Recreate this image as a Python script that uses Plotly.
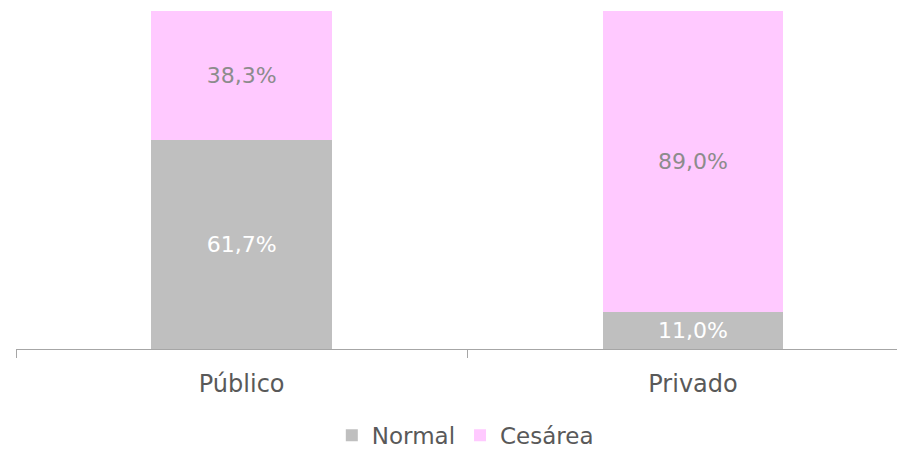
import plotly.graph_objects as go

# categorias e valores (proporções)
categorias = ["Público", "Privado"]
normal = [0.617, 0.110]
cesarea = [0.383, 0.890]

cor_normal = "#BFBFBF"
cor_cesarea = "#FFC9FF"
fonte = "'Century Gothic', 'DejaVu Sans', sans-serif"

fig = go.Figure()

fig.add_trace(go.Bar(
    x=categorias, y=normal, name="Normal",
    marker=dict(color=cor_normal, line=dict(width=0)),
    texttemplate="%{y:.1%}", textposition="inside", insidetextanchor="middle",
    textangle=0, constraintext="none",
    textfont=dict(color="white", size=22, family=fonte),
))
fig.add_trace(go.Bar(
    x=categorias, y=cesarea, name="Cesárea",
    marker=dict(color=cor_cesarea, line=dict(width=0)),
    texttemplate="%{y:.1%}", textposition="inside", insidetextanchor="middle",
    textangle=0, constraintext="none",
    textfont=dict(color="#8C8C8C", size=22, family=fonte),
))

# figura um pouco mais alta que a janela para a legenda não empurrar a margem
fig.update_layout(
    barmode="stack",
    bargap=0.6,
    separators=",.",
    width=897, height=480,
    margin=dict(l=16, r=0, t=11, b=131),
    plot_bgcolor="white", paper_bgcolor="white",
    font=dict(family=fonte, color="#595959", size=24),
    showlegend=True,
    legend=dict(orientation="h", x=0.51, xanchor="center", y=-0.255, yanchor="middle",
                font=dict(size=23, color="#595959"), itemwidth=30,
                traceorder="normal"),
)

fig.update_xaxes(
    type="category", range=[-0.5, 1.452],
    showline=True, linecolor="#A6A6A6", linewidth=1,
    ticks="outside", tickson="boundaries", ticklen=8, tickcolor="#A6A6A6",
    ticklabelstandoff=13,
    showgrid=False, zeroline=False,
    tickfont=dict(size=24, color="#595959"),
)
fig.update_yaxes(visible=False, range=[0, 1])

fig.write_html(
    "out.html",
    config={"displayModeBar": False},
    post_script="document.body.style.margin='0';document.body.style.overflow='hidden';",
)
